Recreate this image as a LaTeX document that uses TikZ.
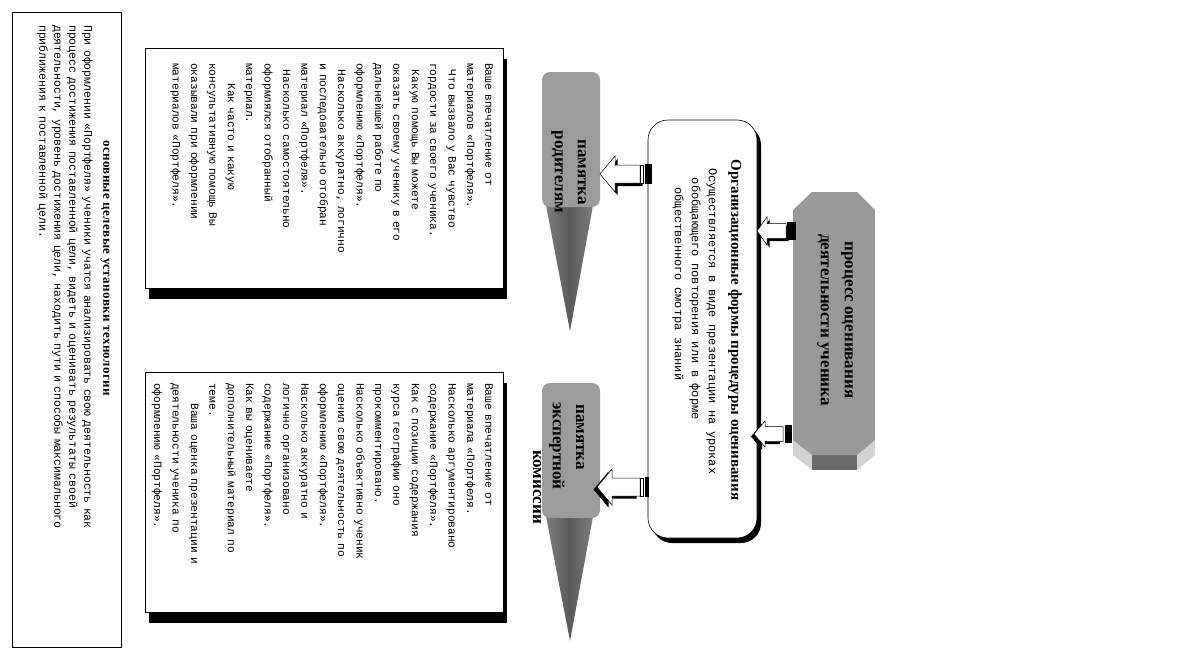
\documentclass[tikz,border=0pt]{standalone}
\usepackage{fontspec}
\setmainfont{Liberation Serif}
\newfontfamily\monof{Liberation Mono}
\newfontfamily\titlef[LetterSpace=3]{Liberation Serif}
\usetikzlibrary{shadows}
\newcommand\boxfont{\monof\fontsize{11.2}{18.4}\selectfont\spaceskip 4.2pt\relax}
\newcommand\leftfont{\monof\fontsize{11.5}{15}\selectfont\spaceskip 4.3pt\relax}
\newcommand\subfont{\monof\fontsize{12}{17}\selectfont\spaceskip 6.5pt\relax}
\definecolor{ptrgray}{HTML}{9C9C9C}
\definecolor{ptrdark}{HTML}{5A5A5A}
\definecolor{ptrlight}{HTML}{7E7E7E}
\definecolor{procgray}{HTML}{999999}
\definecolor{bevlight}{HTML}{D2D2D2}
\definecolor{bevdark}{HTML}{6A6A6A}
% block arrow pointing left: tip x, y, head back x, head half, shaft half, shaft end x, shadow dx, shadow dy
\newcommand\blkarrow[8]{%
  \fill[black,shift={(#7,#8)}] (#1,#2) -- (#3,{#2-#4}) -- (#3,{#2-#5}) -- (#6,{#2-#5}) -- (#6,{#2+#5}) -- (#3,{#2+#5}) -- (#3,{#2+#4}) -- cycle;
  \draw[fill=white,line width=0.5pt] (#1,#2) -- (#3,{#2-#4}) -- (#3,{#2-#5}) -- (#6,{#2-#5}) -- (#6,{#2+#5}) -- (#3,{#2+#5}) -- (#3,{#2+#4}) -- cycle;
}
\tikzset{
  txtbox/.style={draw, fill=white, line width=0.6pt, inner sep=0pt, minimum width=358pt, minimum height=240pt,
    general shadow={fill=black, shadow xshift=4pt, shadow yshift=-11pt}},
  bodytxt/.style={rotate=-90, anchor=north west, inner sep=0pt, align=left, font=\boxfont},
  ptrbox/.style={fill=ptrgray, rounded corners=8pt, minimum width=58pt, minimum height=135pt, inner sep=0pt},
  ptrtxt/.style={rotate=-90, inner sep=0pt, align=center, font=\bfseries\fontsize{17}{23}\selectfont},
}
\begin{document}
\begin{tikzpicture}[x=1pt,y=-1pt]
\useasboundingbox (0,0) rectangle (1177,661);

% left box
\node[draw, line width=0.8pt, minimum width=109pt, minimum height=635pt, inner sep=0pt] (leftbox) at (66.5,329.5) {};
\node[rotate=-90, inner sep=0pt, font=\titlef\bfseries\fontsize{13}{15}\selectfont] (lefttitle) at (105,268) {основные целевые установки технологии};
\node[rotate=-90, anchor=north west, inner sep=0pt, align=left, font=\leftfont] (leftbody) at (93,25)
{При оформлении «Портфеля» ученики учатся анализировать свою деятельность как\\
процесс достижения поставленной цели, видеть и оценивать результаты своей\\
деятельности, уровень достижения цели, находить пути и способы максимального\\
приближения к поставленной цели.};

% upper text box
\node[txtbox] (parbox) at (324,168) {};
\node[bodytxt] (partxt) at (493,63)
{Ваше впечатление от\\
материалов «Портфеля».\\
\hspace{0.6em}Что вызвало у Вас чувство\\
гордости за своего ученика.\\
\hspace{0.6em}Какую помощь Вы можете\\
оказать своему ученику в его\\
дальнейшей работе по\\
оформлению «Портфеля».\\
\hspace{0.6em}Насколько аккуратно, логично\\
и последовательно отобран\\
материал «Портфеля».\\
\hspace{0.6em}Насколько самостоятельно\\
оформлялся отобранный\\
материал.\\
\hspace{1.8em}Как часто и какую\\
консультативную помощь Вы\\
оказывали при оформлении\\
материалов «Портфеля».};

% lower text box
\node[txtbox] (expbox) at (324,492) {};
\node[bodytxt] (exptxt) at (493,383)
{Ваше впечатление от\\
материала «Портфеля.\\
Насколько аргументировано\\
содержание «Портфеля».\\
Как с позиции содержания\\
курса географии оно\\
прокомментировано.\\
Насколько объективно ученик\\
оценил свою деятельность по\\
оформлению «Портфеля».\\
Насколько аккуратно и\\
логично организовано\\
содержание «Портфеля».\\
Как вы оцениваете\\
дополнительный материал по\\
теме.\\
\hspace{1.8em}Ваша оценка презентации и\\
деятельности ученика по\\
оформлению «Портфеля».};

% pointer: parents
\shade[left color=ptrlight, right color=ptrlight, middle color=ptrdark] (545,200) -- (594,200) -- (570,331) -- cycle;
\node[ptrbox] (ptrA) at (571,139.5) {};
\node[ptrtxt] (ptrAtxt) at (568.5,172) {памятка\\родителям};

% pointer: expert commission
\shade[left color=ptrlight, right color=ptrlight, middle color=ptrdark] (545,511) -- (594,511) -- (570,641) -- cycle;
\node[ptrbox] (ptrB) at (571,450.5) {};
\node[ptrtxt] (ptrB1) at (580,437) {памятка};
\node[ptrtxt] (ptrB2) at (557,446) {экспертной};
\node[ptrtxt] (ptrB3) at (537,487) {комиссии};

% central box
\node[draw, fill=white, line width=0.6pt, rounded corners=20pt, minimum width=109pt, minimum height=418pt, inner sep=0pt,
  general shadow={fill=black, shadow xshift=4pt, shadow yshift=-5pt}] (central) at (702.5,329) {};
\node[rotate=-90, inner sep=0pt, font=\bfseries\fontsize{15}{18}\selectfont] (ctitle) at (735,330) {Организационные формы процедуры оценивания};
\node[rotate=-90, anchor=north west, inner sep=0pt, align=left, font=\subfont] (csub) at (717,168)
{Осуществляется в виде презентации на уроках\\
\hspace{0.8em}обобщающего повторения или в форме\\
\hspace{1.6em}общественного смотра знаний};

% process box (3D octagon)
\fill[bevlight] (793,440) -- (812,455) -- (812,470) -- (793,455) -- cycle;
\fill[bevlight] (875,440) -- (857,455) -- (857,470) -- (875,455) -- cycle;
\fill[bevdark] (812,455) -- (857,455) -- (857,470) -- (812,470) -- cycle;
\fill[procgray] (812,192) -- (857,192) -- (875,210) -- (875,440) -- (857,455) -- (812,455) -- (793,440) -- (793,210) -- cycle;
\node[rotate=-90, inner sep=0pt, align=center, font=\bfseries\fontsize{17}{24}\selectfont] (process) at (835,320) {процесс оценивания\\деятельности ученика};

% arrows
\blkarrow{600}{174}{615}{18}{9}{640}{2.5}{3}
\draw[fill=white,line width=0.5pt] (640.5,165) rectangle (643,183);
\fill[black] (645,164) rectangle (652,184);

\blkarrow{757}{231}{767}{14}{7.5}{786}{2.5}{2.5}
\fill[black] (787,222) rectangle (796,240);

\blkarrow{597}{487}{612}{18}{9}{640}{-3.5}{2.5}
\draw[fill=white,line width=0.5pt] (640.5,478) rectangle (643,496);
\fill[black] (645,477) rectangle (648.5,497);

\blkarrow{754}{434}{765}{13}{7.5}{783}{-3}{2.5}
\fill[black] (785,425) rectangle (792,443);
\end{tikzpicture}
\end{document}
